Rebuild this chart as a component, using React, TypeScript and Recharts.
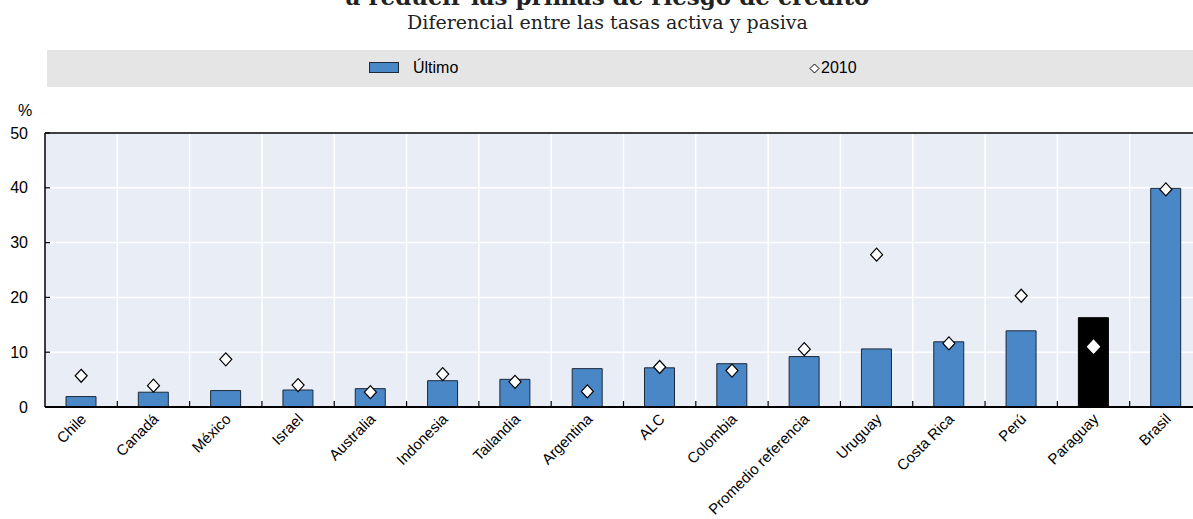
import React from 'react';
import { ComposedChart, Bar, Line, XAxis, YAxis, CartesianGrid, Cell, usePlotArea } from 'recharts';

const categories = [
  'Chile', 'Canadá', 'México', 'Israel', 'Australia', 'Indonesia', 'Tailandia', 'Argentina',
  'ALC', 'Colombia', 'Promedio referencia', 'Uruguay', 'Costa Rica', 'Perú', 'Paraguay', 'Brasil',
];
const latestValues = [1.9, 2.7, 3.0, 3.1, 3.35, 4.8, 5.05, 7.0, 7.15, 7.9, 9.2, 10.6, 11.9, 13.9, 16.3, 39.9];
const values2010 = [5.7, 3.9, 8.7, 4.0, 2.7, 6.0, 4.6, 2.85, 7.3, 6.65, 10.55, 27.8, 11.6, 20.3, 11.0, 39.7];
const yTicks = [0, 10, 20, 30, 40, 50];
const highlighted = 'Paraguay';

const BLUE = '#4a87c6';
const OUTLINE = '#1c2a38';
const SANS = '"Liberation Sans", Arial, sans-serif';
const SERIF = '"DejaVu Serif", serif';

const chartData = categories.map((name, i) => ({
  name,
  latest: latestValues[i],
  y2010: values2010[i],
}));

function Diamond(props: any) {
  const { cx, cy, payload } = props;
  if (cx == null || cy == null) return null;
  const onDark = payload && payload.name === highlighted;
  return (
    <path
      d={`M${cx},${cy - 6.5}L${cx + 6},${cy}L${cx},${cy + 6.5}L${cx - 6},${cy}Z`}
      fill="#fff"
      stroke={onDark ? '#fff' : '#000'}
      strokeWidth={1.2}
    />
  );
}

function CategoryTick(props: any) {
  const { x, y, payload } = props;
  const tx = x + 6;
  const ty = y + 11;
  return (
    <text
      x={tx} y={ty}
      transform={`rotate(-45, ${tx}, ${ty})`}
      textAnchor="end"
      fontSize={15}
      fontFamily={SANS}
      fill="#000"
    >
      {payload.value}
    </text>
  );
}

// boundary gridlines, small inner ticks and the top border of the plot
function PlotFrame() {
  const area = usePlotArea();
  if (!area) return null;
  const { x, y, width, height } = area;
  const step = width / categories.length;
  const bounds = categories.slice(1).map((_, i) => x + step * (i + 1));
  const yMax = yTicks[yTicks.length - 1];
  return (
    <g>
      {bounds.map((bx) => (
        <line key={'g' + bx} x1={bx} x2={bx} y1={y} y2={y + height} stroke="#fff" strokeWidth={1.5} />
      ))}
      {bounds.map((bx) => (
        <line key={'t' + bx} x1={bx} x2={bx} y1={y + height - 6} y2={y + height} stroke="#000" strokeWidth={1.2} />
      ))}
      {yTicks.map((v) => {
        const ty = y + height * (1 - v / yMax);
        return <line key={'y' + v} x1={x} x2={x + 5} y1={ty} y2={ty} stroke="#000" strokeWidth={1.2} />;
      })}
      <line x1={x} x2={x + width} y1={y} y2={y} stroke="#000" strokeWidth={1.5} />
    </g>
  );
}

export default function App() {
  return (
    <div style={{ position: 'fixed', left: 0, top: 0, width: 1193, height: 519, overflow: 'hidden', background: '#fff', fontFamily: SANS }}>
      <div style={{ position: 'absolute', left: 0, top: -15, width: 1215, textAlign: 'center', fontFamily: SERIF, fontWeight: 'bold', fontSize: 23, lineHeight: '23px', color: '#222', whiteSpace: 'nowrap' }}>
        a reducir las primas de riesgo de crédito
      </div>
      <div style={{ position: 'absolute', left: 0, top: 13, width: 1215, textAlign: 'center', fontFamily: SERIF, fontSize: 19, lineHeight: '19px', color: '#222', whiteSpace: 'nowrap' }}>
        Diferencial entre las tasas activa y pasiva
      </div>

      <div style={{ position: 'absolute', left: 47, top: 50, width: 1160, height: 37, background: '#e5e5e5' }} />
      <div style={{ position: 'absolute', left: 369, top: 62, width: 28, height: 9, background: BLUE, border: `1.5px solid ${OUTLINE}` }} />
      <span style={{ position: 'absolute', left: 413, top: 60, fontSize: 16, lineHeight: '16px', color: '#000' }}>Último</span>
      <svg style={{ position: 'absolute', left: 809, top: 63 }} width={11} height={11}>
        <path d="M5.5,1L10,5.5L5.5,10L1,5.5Z" fill="#fff" stroke="#000" strokeWidth={1} />
      </svg>
      <span style={{ position: 'absolute', left: 821, top: 60, fontSize: 16, lineHeight: '16px', color: '#000' }}>2010</span>

      <span style={{ position: 'absolute', left: 18, top: 103, fontSize: 16, lineHeight: '16px', color: '#000' }}>%</span>

      <div style={{ position: 'absolute', left: 0, top: 0 }}>
        <ComposedChart width={1215} height={519} data={chartData} margin={{ top: 133, right: 13, left: 0, bottom: 0 }}>
          <CartesianGrid vertical={false} stroke="#fff" strokeWidth={1.5} fill="#e9edf6" />
          <PlotFrame />
          <XAxis
            dataKey="name"
            interval={0}
            height={112}
            tickLine={false}
            tickSize={0}
            tick={<CategoryTick />}
            axisLine={{ stroke: '#000', strokeWidth: 2 }}
          />
          <YAxis
            width={45}
            domain={[0, 50]}
            ticks={yTicks}
            tickLine={false}
            tickSize={0}
            tickMargin={17}
            axisLine={{ stroke: '#000', strokeWidth: 1.5 }}
            tick={{ fontSize: 16, fill: '#000', fontFamily: SANS }}
          />
          <Bar dataKey="latest" barSize={30} stroke={OUTLINE} strokeWidth={1} isAnimationActive={false}>
            {chartData.map((d) => (
              <Cell key={d.name} fill={d.name === highlighted ? '#000' : BLUE} stroke={d.name === highlighted ? '#000' : OUTLINE} />
            ))}
          </Bar>
          <Line
            dataKey="y2010"
            stroke="none"
            dot={<Diamond />}
            activeDot={false}
            isAnimationActive={false}
          />
        </ComposedChart>
      </div>
    </div>
  );
}
